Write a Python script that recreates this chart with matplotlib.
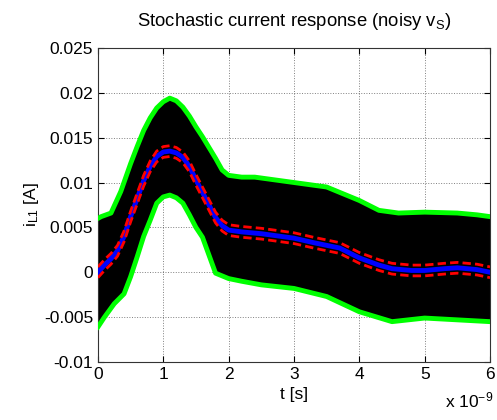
# -*- coding: utf-8 -*-

import numpy as np
import matplotlib.pyplot as plt

plt.rcParams["font.family"] = ["Liberation Sans", "DejaVu Sans"]

# time axis in units of 1e-9 s
t_mean = [0.0, 0.1, 0.2, 0.3, 0.4, 0.5, 0.6, 0.7, 0.8, 0.9, 1.0, 1.1, 1.2, 1.3, 1.4, 1.5,
          1.6, 1.7, 1.8, 1.9, 2.0, 2.2, 2.5, 2.8, 3.0, 3.3, 3.7, 4.0, 4.3, 4.5, 4.8,
          5.0, 5.3, 5.5, 5.8, 6.0]
i_mean = [0.0000, 0.0008, 0.0015, 0.0024, 0.0040, 0.0062, 0.0082, 0.0102, 0.0118, 0.0129,
          0.0134, 0.0135, 0.0133, 0.0128, 0.0118, 0.0103, 0.0089, 0.0075, 0.0061, 0.0052,
          0.0047, 0.0045, 0.0043, 0.0040, 0.0038, 0.0033, 0.0027, 0.0016, 0.0008, 0.0004,
          0.0002, 0.0002, 0.0004, 0.0005, 0.0003, 0.0000]

t_up = [0.0, 0.05, 0.2, 0.35, 0.5, 0.6, 0.7, 0.8, 0.9, 1.0, 1.1, 1.2, 1.3, 1.4, 1.5, 1.6,
        1.7, 1.8, 1.9, 2.0, 2.2, 2.4, 2.7, 3.0, 3.3, 3.5, 3.8, 4.0, 4.3, 4.6, 5.0, 5.5,
        5.8, 6.0]
i_up = [0.0060, 0.0062, 0.0066, 0.0090, 0.0121, 0.0140, 0.0158, 0.0172, 0.0183, 0.0190,
        0.0194, 0.0191, 0.0184, 0.0174, 0.0162, 0.0151, 0.0139, 0.0127, 0.0114, 0.0108,
        0.0106, 0.0106, 0.0103, 0.0100, 0.0097, 0.0095, 0.0086, 0.0080, 0.0069, 0.0066,
        0.0067, 0.0066, 0.0064, 0.0062]

t_lo = [0.0, 0.1, 0.25, 0.4, 0.5, 0.6, 0.7, 0.8, 0.9, 1.0, 1.1, 1.2, 1.3, 1.4, 1.5, 1.6,
        1.7, 1.8, 2.0, 2.2, 2.5, 3.0, 3.5, 4.0, 4.5, 5.0, 5.5, 6.0]
i_lo = [-0.0061, -0.0050, -0.0035, -0.0024, -0.0005, 0.0017, 0.0040, 0.0058, 0.0077,
        0.0084, 0.0086, 0.0083, 0.0077, 0.0064, 0.0050, 0.0039, 0.0019, -0.0001, -0.0007,
        -0.0010, -0.0014, -0.0018, -0.0027, -0.0044, -0.0055, -0.0051, -0.0053, -0.0055]

# half width of the red dashed band around the mean
red_half = 0.0006

xticks = [0, 1, 2, 3, 4, 5, 6]
yticks = [-0.01, -0.005, 0, 0.005, 0.01, 0.015, 0.02, 0.025]
ytick_labels = ["-0.01", "-0.005", "0", "0.005", "0.01", "0.015", "0.02", "0.025"]


def main():
    fig = plt.figure(figsize=(4.97, 4.20), dpi=100)
    ax = fig.add_axes([0.197, 0.138, 0.789, 0.748])

    # black cloud of realisations, on a common grid
    tt = np.union1d(t_up, t_lo)
    up = np.interp(tt, t_up, i_up)
    lo = np.interp(tt, t_lo, i_lo)
    ax.fill_between(tt, lo, up, color="black", linewidth=0, zorder=2)

    ax.plot(t_up, i_up, color="#00ff00", linewidth=3.5, zorder=3)
    ax.plot(t_lo, i_lo, color="#00ff00", linewidth=3.5, zorder=3)

    m = np.array(i_mean)
    ax.plot(t_mean, m, color="#0000ff", linewidth=3.5, zorder=4)
    ax.plot(t_mean, m + red_half, color="#ff0000", linewidth=2, linestyle=(0, (3, 1.5)), zorder=5)
    ax.plot(t_mean, m - red_half, color="#ff0000", linewidth=2, linestyle=(0, (3, 1.5)), zorder=5)

    ax.set_xlim(0, 6)
    ax.set_ylim(-0.01, 0.025)
    ax.set_xticks(xticks)
    ax.set_yticks(yticks)
    ax.set_yticklabels(ytick_labels)
    ax.tick_params(direction="in", labelsize=12.5, length=4, top=True, right=True)
    ax.grid(True, color="black", linestyle=":", linewidth=0.7, alpha=0.5)
    ax.set_axisbelow(True)
    for sp in ax.spines.values():
        sp.set_linewidth(0.8)
        sp.set_color("#333333")

    ax.set_title(r"Stochastic current response (noisy $\mathregular{v_S}$)", fontsize=13.3, pad=16)
    ax.set_xlabel("t [s]", fontsize=12.5, labelpad=4)
    ax.set_ylabel(r"$\mathregular{i_{L1}}$ [A]", fontsize=12.5, labelpad=2)
    fig.text(0.895, 0.022, r"x $\mathregular{10^{-9}}$", fontsize=12.5, ha="left", va="bottom")

    fig.savefig("out.png", dpi=100)


if __name__ == '__main__':
    main()
